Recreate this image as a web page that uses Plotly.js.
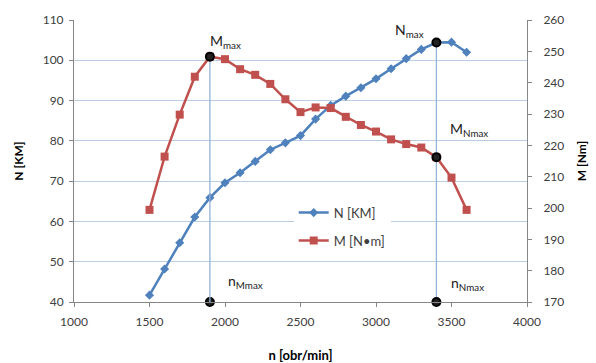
<!DOCTYPE html>
<html>
<head>
<meta charset="utf-8">
<script src="https://cdn.plot.ly/plotly-3.0.1.min.js"></script>
<style>html,body{margin:0;padding:0;background:#fff;}#chart{width:596px;height:363px;}</style>
</head>
<body>
<div id="chart"></div>
<script>
const rpm = [1500,1600,1700,1800,1900,2000,2100,2200,2300,2400,2500,2600,2700,2800,2900,3000,3100,3200,3300,3400,3500,3600];
const powerN = [41.7,48.2,54.7,61.1,65.9,69.6,72.1,74.9,77.8,79.5,81.3,85.4,88.8,91.1,93.2,95.4,97.9,100.4,102.7,104.4,104.5,102.0];
const torqueM = [199.4,216.4,229.8,241.9,248.3,247.5,244.3,242.5,239.6,234.7,230.6,232.1,231.9,229.1,226.5,224.4,221.9,220.4,219.3,216.2,209.7,199.4];
const nMmax = 1900;
const nNmax = 3400;
const iM = rpm.indexOf(nMmax), iN = rpm.indexOf(nNmax);

const font = "Lato, 'Open Sans', 'Liberation Sans', sans-serif";
const blue = '#4F81BD', red = '#C0504D', vline = '#95B3D7';
const dot = {symbol:'circle', size:8, color:'#222', line:{color:'#000', width:2}};

const traces = [
  {x:[nMmax,nMmax], y:[170, torqueM[iM]], yaxis:'y2', mode:'lines', line:{color:vline,width:1.3}, showlegend:false, hoverinfo:'skip'},
  {x:[nNmax,nNmax], y:[40, powerN[iN]], mode:'lines', line:{color:vline,width:1.3}, showlegend:false, hoverinfo:'skip'},
  {x:rpm, y:powerN, name:'N [KM]', legendgroup:'a', mode:'lines+markers', line:{color:blue,width:2.5}, marker:{symbol:'diamond', size:7, color:blue}},
  {x:rpm, y:torqueM, name:'M [N•m]', legendgroup:'b', yaxis:'y2', mode:'lines+markers', line:{color:red,width:2.5}, marker:{symbol:'square', size:8, color:red}},
  {x:[nNmax, nMmax, nNmax], y:[powerN[iN], 40, 40], mode:'markers', marker:dot, showlegend:false, hoverinfo:'skip', cliponaxis:false},
  {x:[nMmax, nNmax], y:[torqueM[iM], torqueM[iN]], yaxis:'y2', mode:'markers', marker:dot, showlegend:false, hoverinfo:'skip', cliponaxis:false}
];

const annFont = {family:font, size:14, color:'#222'};
function ann(x, y, txt){ return {x:x, y:y, xref:'x', yref:'y', text:txt, showarrow:false, xanchor:'left', yanchor:'middle', font:annFont}; }

const layout = {
  width:596, height:363,
  margin:{l:74, r:69, t:20, b:61, pad:0},
  paper_bgcolor:'#fff', plot_bgcolor:'#fff',
  font:{family:font, size:12, color:'#404040'},
  showlegend:true,
  legend:{x:0.485, y:0.37, xanchor:'left', yanchor:'top', bgcolor:'#fff', borderwidth:0, font:{family:font, size:13, color:'#404040'}, tracegroupgap:8},
  xaxis:{range:[1000,4000], dtick:500, tick0:1000, showgrid:false, zeroline:false, showline:true, linecolor:'#868686', linewidth:1, ticks:'outside', ticklen:4, tickcolor:'#868686', ticklabelstandoff:5, tickfont:{family:font,size:12,color:'#404040'},
    title:{text:'n [obr/min]', font:{family:font,size:13,color:'#000',weight:'bold'}, standoff:24}},
  yaxis:{range:[40,110], dtick:10, showgrid:true, gridcolor:'#B9CDE5', gridwidth:1, zeroline:false, showline:true, linecolor:'#868686', ticks:'outside', ticklen:4, tickcolor:'#868686', ticklabelstandoff:3, tickfont:{family:font,size:12,color:'#404040'},
    title:{text:'N [KM]', font:{family:font,size:12,color:'#000',weight:'bold'}, standoff:16}},
  yaxis2:{range:[170,260], dtick:10, overlaying:'y', side:'right', showgrid:false, zeroline:false, showline:true, linecolor:'#868686', ticks:'outside', ticklen:4, tickcolor:'#868686', ticklabelstandoff:9, tickfont:{family:font,size:12,color:'#404040'},
    title:{text:'M [Nm]', font:{family:font,size:12,color:'#000',weight:'bold'}, standoff:14}},
  annotations:[
    ann(1885, 104.6, 'M<sub>max</sub>'),
    ann(3110, 107.4, 'N<sub>max</sub>'),
    ann(3480, 82.9, 'M<sub>Nmax</sub>'),
    ann(2005, 45.2, 'n<sub>Mmax</sub>'),
    ann(3485, 44.6, 'n<sub>Nmax</sub>')
  ]
};

Plotly.newPlot('chart', traces, layout, {displayModeBar:false, staticPlot:true});
</script>
</body>
</html>
